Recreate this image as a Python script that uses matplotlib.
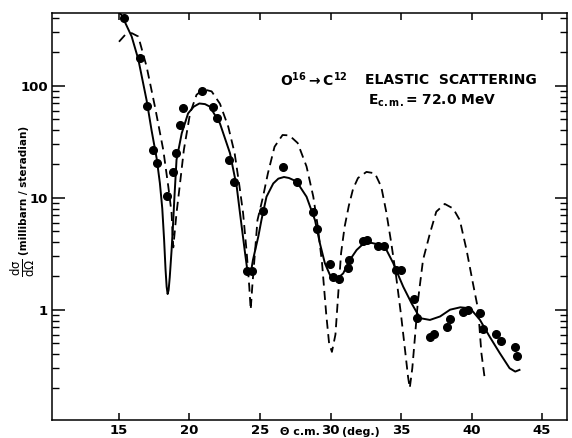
import matplotlib
matplotlib.use("Agg")
import matplotlib.pyplot as plt
from matplotlib.ticker import FixedLocator, NullFormatter

# measured cross sections (deg c.m., mb/sr)
theta_exp = [15.35, 16.49, 16.99, 17.41, 17.70, 18.40, 18.81, 19.04, 19.33, 19.54,
             20.87, 21.67, 21.95, 22.80, 23.18, 24.06, 24.43, 25.23, 26.65, 27.60,
             28.74, 29.02, 29.96, 30.20, 30.60, 31.22, 31.33, 32.28, 32.61, 33.39,
             33.79, 34.65, 34.98, 35.92, 36.11, 37.06, 37.34, 38.24, 38.48, 39.38,
             39.77, 40.60, 40.84, 41.74, 42.07, 43.09, 43.25]
sigma_exp = [400, 177, 66, 26.7, 20.4, 10.4, 16.9, 25, 45, 63,
             90, 64, 52, 21.6, 13.8, 2.2, 2.2, 7.65, 18.7, 13.8,
             7.5, 5.3, 2.54, 1.95, 1.87, 2.34, 2.78, 4.13, 4.19, 3.73,
             3.73, 2.26, 2.26, 1.25, 0.85, 0.57, 0.61, 0.705, 0.83, 0.95,
             1.0, 0.93, 0.67, 0.61, 0.52, 0.46, 0.386]

# solid curve (fit)
theta_fit = [14.85, 15.19, 15.90, 16.37, 16.96, 17.31, 17.67, 17.90, 18.07, 18.20,
             18.30, 18.38, 18.45, 18.52, 18.60, 18.73, 18.85, 18.92, 19.08, 19.45,
             19.90, 20.30, 20.70, 21.10, 21.45, 22.16, 22.87, 23.35, 23.58, 23.94,
             24.10, 24.24, 24.38, 24.50, 24.88, 25.10, 25.46, 25.94, 26.30, 26.70,
             27.05, 27.36, 27.60, 28.30, 28.90, 29.25, 29.60, 29.96, 30.43, 30.90,
             31.37, 31.85, 32.20, 32.55, 32.90, 33.26, 33.97, 34.45, 34.65, 35.16,
             35.75, 36.35, 37.05, 37.77, 38.48, 39.20, 39.90, 40.60, 41.30, 42.00,
             42.70, 43.10, 43.40]
sigma_fit = [470, 427, 275, 172, 74, 40, 22.5, 13.5, 8.0, 4.2,
             2.3, 1.6, 1.38, 1.5, 1.95, 3.4, 6.3, 9.5, 21.8, 37.6,
             56.6, 65, 69.4, 68.5, 65, 46, 25, 12.5, 7.3, 3.2,
             2.26, 2.1, 2.25, 2.78, 4.5, 6.3, 10.2, 13.4, 14.8, 15.3,
             15.0, 14.4, 13.9, 10.2, 6.3, 3.9, 2.6, 2.04, 1.87, 2.11,
             2.78, 3.41, 3.75, 3.92, 3.95, 3.86, 3.41, 2.6, 2.26, 1.6,
             1.14, 0.84, 0.81, 0.87, 1.0, 1.05, 1.03, 0.81, 0.57, 0.41,
             0.30, 0.28, 0.29]

# dashed curve
theta_dash = [15.00, 15.43, 15.90, 16.37, 16.96, 17.55, 18.14, 18.50, 18.73, 18.85,
              19.08, 19.30, 19.60, 20.04, 20.50, 20.98, 21.57, 22.16, 22.75, 23.20,
              23.55, 23.80, 24.06, 24.24, 24.34, 24.45, 24.64, 24.82, 25.20, 25.56,
              26.03, 26.60, 27.08, 27.67, 28.30, 28.78, 29.10, 29.40, 29.70, 29.90,
              30.10, 30.35, 30.55, 30.75, 31.00, 31.30, 31.60, 31.95, 32.55, 33.15,
              33.60, 33.95, 34.30, 34.65, 35.00, 35.30, 35.50, 35.62, 35.80, 35.95,
              36.20, 36.56, 37.05, 37.50, 38.10, 38.70, 39.17, 39.65, 40.10, 40.47,
              40.70, 40.95]
sigma_dash = [247, 284, 295, 275, 148, 65, 26.7, 12.5, 7.3, 3.6,
              7.3, 12.5, 26.7, 56.6, 83, 93, 89, 69, 43, 25,
              12.5, 7.3, 3.2, 1.6, 1.0, 1.6, 3.2, 6.3, 10.0, 16.5,
              28.5, 36.3, 36, 30.8, 19, 10.2, 5.5, 2.6, 0.9, 0.5,
              0.42, 0.6, 1.4, 3.2, 5.5, 8.5, 12, 15, 17, 16.5,
              12.5, 7.5, 4.0, 2.0, 0.9, 0.42, 0.25, 0.2, 0.3, 0.5,
              1.2, 2.78, 4.8, 7.5, 8.8, 8.0, 6.3, 3.4, 1.72, 1.0,
              0.41, 0.235]

x_ticks = [15, 20, 25, 30, 35, 40, 45]
y_ticks = [1, 10, 100]

plt.rcParams["mathtext.default"] = "regular"

W, H = 572, 438
fig = plt.figure(figsize=(W / 100, H / 100), dpi=100)
ax = fig.add_axes([52 / W, 1 - 420 / H, (567 - 52) / W, (420 - 13) / H])

ax.plot(theta_fit, sigma_fit, color="black", lw=1.4)
ax.plot(theta_dash, sigma_dash, color="black", lw=1.3, dashes=(5, 3))
ax.plot(theta_exp, sigma_exp, "o", color="black", ms=5.5)

ax.set_yscale("log")
ax.set_xlim(10.25, 46.77)
ax.set_ylim(0.1035, 446)

ax.xaxis.set_major_locator(FixedLocator(x_ticks))
ax.yaxis.set_major_locator(FixedLocator(y_ticks))
ax.yaxis.set_minor_locator(FixedLocator([m * d for d in (0.1, 1, 10, 100) for m in range(2, 10)]))
ax.yaxis.set_minor_formatter(NullFormatter())
ax.set_xticklabels([str(t) for t in x_ticks], fontsize=9.5, fontweight="bold")
ax.set_yticklabels(["1", "10", "100"], fontsize=9.5, fontweight="bold")
ax.tick_params(axis="x", which="major", direction="in", length=5, width=1.1, pad=3,
               top=True)
ax.tick_params(axis="y", which="major", direction="in", length=9, width=1.1, pad=3,
               right=True)
ax.tick_params(axis="y", which="minor", direction="in", length=5, width=1.0, right=True)
for s in ax.spines.values():
    s.set_linewidth(1.1)


def fx(px):
    return px / W


def fy(py):
    return 1 - py / H


fig.text(fx(280), fy(80), r"O$^{16}$$\rightarrow$C$^{12}$", fontsize=10,
         fontweight="bold", va="center", ha="left")
fig.text(fx(365), fy(80), "ELASTIC  SCATTERING", fontsize=10, fontweight="bold",
         va="center", ha="left")
fig.text(fx(368), fy(101), r"E$_{c.m.}$= 72.0 MeV", fontsize=10, fontweight="bold",
         va="center", ha="left")

# y axis label: fraction + units
fig.text(fx(23), fy(268), r"$\dfrac{d\sigma}{d\Omega}$", rotation=90, fontsize=8.5,
         va="center", ha="center")
fig.text(fx(24), fy(190), "(millibarn / steradian)", rotation=90, fontsize=7.5,
         fontweight="bold", va="center", ha="center")

# x axis label, split around the "30" tick label as in the original
fig.text(fx(300), fy(432), "Θ c.m.", fontsize=8, fontweight="bold",
         va="center", ha="center")
fig.text(fx(361), fy(432), "(deg.)", fontsize=8, fontweight="bold",
         va="center", ha="center")

fig.savefig("out.png", dpi=100)
